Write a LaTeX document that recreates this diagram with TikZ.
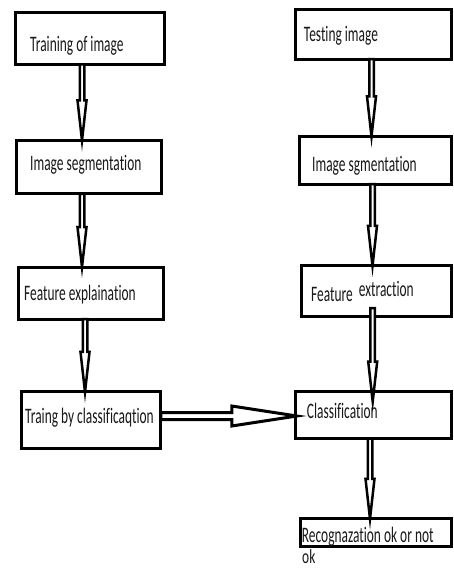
\documentclass[tikz,border=0pt]{standalone}
\usepackage{fontspec}
\setmainfont[Ligatures=NoCommon]{Carlito}
\usepackage{graphicx}
\usetikzlibrary{calc}
\newcommand{\stx}[1]{\scalebox{1}[1.65]{#1}}
\tikzset{
  box/.style={draw=black, line width=3pt, fill=white, inner sep=0pt, outer sep=0pt},
  txt/.style={anchor=base west, inner sep=0pt, font=\fontsize{13.4}{16}\selectfont, text=black!90},
  varrow/.style={draw=black, fill=white, line width=2.5pt, line join=miter,
    to path={($(\tikztostart)+(-2.25,0)$) -- ($(\tikztotarget)+(-2.25,-40)$) -- ($(\tikztotarget)+(-4.5,-40)$) -- (\tikztotarget) -- ($(\tikztotarget)+(4.5,-40)$) -- ($(\tikztotarget)+(2.25,-40)$) -- ($(\tikztostart)+(2.25,0)$) -- cycle}},
  harrow/.style={draw=black, fill=white, line width=3pt, line join=miter,
    to path={($(\tikztostart)+(0,-3.5)$) -- ($(\tikztotarget)+(-65,-3.5)$) -- ($(\tikztotarget)+(-65,-10)$) -- (\tikztotarget) -- ($(\tikztotarget)+(-65,10)$) -- ($(\tikztotarget)+(-65,3.5)$) -- ($(\tikztostart)+(0,3.5)$) -- cycle}}
}
\begin{document}
\begin{tikzpicture}[x=1pt,y=-1pt]
\useasboundingbox[fill=white] (0,0) rectangle (454,569);
% left column
\node[box, minimum width=149pt, minimum height=52pt] (l1) at (90,38.5) {};
\node[box, minimum width=145pt, minimum height=53.5pt] (l2) at (89,167.2) {};
\node[box, minimum width=145.5pt, minimum height=52pt] (l3) at (90.8,293) {};
\node[box, minimum width=139.5pt, minimum height=56.5pt] (l4) at (91.2,420.2) {};
% right column
\node[box, minimum width=155.7pt, minimum height=49.4pt] (r1) at (373.6,34.5) {};
\node[box, minimum width=152.3pt, minimum height=47.7pt] (r2) at (375.3,160.3) {};
\node[box, minimum width=149.7pt, minimum height=50.7pt] (r3) at (376.6,291.2) {};
\node[box, minimum width=155.7pt, minimum height=47pt] (r4) at (373.6,415) {};
\node[box, minimum width=151pt, minimum height=27.7pt] (r5) at (376,532.6) {};
% texts
\node[txt] (t1) at (30,52) {\stx{Training of image}};
\node[txt] (t2) at (30,170.7) {\stx{Image segmentation}};
\node[txt] (t3) at (24,300) {\stx{Feature explaination}};
\node[txt] (t4) at (25,423.3) {\stx{Traing by classificaqtion}};
\node[txt] (t5) at (303.7,41.7) {\stx{Testing image}};
\node[txt] (t6) at (312,171.7) {\stx{Image sgmentation}};
\node[txt] (t7) at (311,301.7) {\stx{Feature}\hspace{6pt}\raisebox{5pt}{\stx{extraction}}};
\node[txt] (t8) at (306.7,418.3) {\stx{Classification}};
\node[txt] (t9) at (301.7,542) {\stx{Recognazation ok or not}};
\node[txt] (t10) at (302,563) {\scalebox{1}[1.5]{ok}};
% arrows
\draw[varrow] (l1.south -| 82,0) to (l2.north -| 82,0);
\draw[varrow] (l2.south -| 82,0) to (l3.north -| 82,0);
\draw[varrow] (l3.south -| 85,0) to (l4.north -| 85,0);
\draw[varrow] (r1.south -| 371.5,0) to (r2.north -| 371.5,0);
\draw[varrow] (r2.south -| 372.5,0) to (r3.north -| 372.5,0);
\draw[varrow] ($(r3.south -| 372.7,0)+(0,-8.5)$) to ($(r4.north -| 372.7,0)+(0,10)$);
\draw[varrow] (r4.south -| 370,0) to (r5.north -| 370,0);
\draw[harrow] (l4.east |- 0,416) to ($(r4.west |- 0,416)+(1,0)$);
\end{tikzpicture}
\end{document}
